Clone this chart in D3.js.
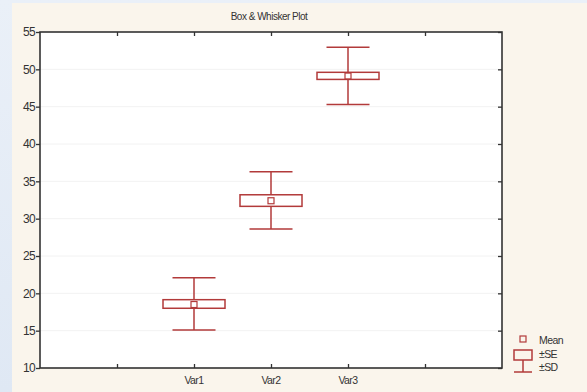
<!DOCTYPE html>
<html>
<head>
<meta charset="utf-8">
<script src="https://cdn.jsdelivr.net/npm/d3@7.9.0/dist/d3.min.js"></script>
<style>
  html, body { margin: 0; padding: 0; background: #fff; }
  svg { display: block; font-family: "Liberation Sans", Arial, sans-serif; }
</style>
</head>
<body>
<svg id="chart" width="587" height="392"></svg>
<script>
// data
const variables = ['Var1', 'Var2', 'Var3'];
const means = [18.5, 32.4, 49.1];
const seLow = [18.0, 31.65, 48.65];
const seHigh = [19.15, 33.2, 49.6];
const sdLow = [15.1, 28.6, 45.3];
const sdHigh = [22.1, 36.3, 52.95];
const yTicks = [10, 15, 20, 25, 30, 35, 40, 45, 50, 55];
const xTickPos = [1, 2, 3, 4, 5];

const svg = d3.select('#chart');
const W = 587, H = 392;
const red = '#b23a3a';

// backgrounds
const grad = svg.append('defs').append('linearGradient')
  .attr('id', 'side').attr('x1', 0).attr('x2', 0).attr('y1', 0).attr('y2', 1);
grad.append('stop').attr('offset', '0%').attr('stop-color', '#eaf0f8');
grad.append('stop').attr('offset', '100%').attr('stop-color', '#dfe8f4');
svg.append('rect').attr('width', W).attr('height', H).attr('fill', 'url(#side)');
svg.append('rect').attr('x', 12).attr('y', 3).attr('width', W - 12).attr('height', H - 3)
  .attr('fill', '#faf5ec');

const margin = { left: 40, right: 85, top: 32, bottom: 24 };
const x = d3.scaleLinear().domain([0, 6]).range([margin.left, W - margin.right]);
const y = d3.scaleLinear().domain([10, 55]).range([H - margin.bottom, margin.top]);

// plot area
svg.append('rect')
  .attr('x', x(0)).attr('y', y(55))
  .attr('width', x(6) - x(0)).attr('height', y(10) - y(55))
  .attr('fill', '#fff');

// faint grid
svg.append('g').selectAll('line').data(yTicks.slice(1, -1)).join('line')
  .attr('x1', x(0)).attr('x2', x(6))
  .attr('y1', d => y(d)).attr('y2', d => y(d))
  .attr('stroke', '#f2f2f2').attr('stroke-width', 1);

// axes
const axLeft = svg.append('g').attr('transform', `translate(${x(0)},0)`)
  .call(d3.axisLeft(y).tickValues(yTicks).tickSize(4).tickPadding(1));
const axRight = svg.append('g').attr('transform', `translate(${x(6)},0)`)
  .call(d3.axisLeft(y).tickValues(yTicks).tickSize(4).tickFormat(''));
const axBottom = svg.append('g').attr('transform', `translate(0,${y(10)})`)
  .call(d3.axisTop(x).tickValues(xTickPos).tickSize(4).tickFormat(''));
const axTop = svg.append('g').attr('transform', `translate(0,${y(55)})`)
  .call(d3.axisBottom(x).tickValues(xTickPos).tickSize(4).tickFormat(''));

[axLeft, axRight, axBottom, axTop].forEach(g => {
  g.select('.domain').remove();
  g.selectAll('.tick line').attr('stroke', '#333').attr('stroke-width', 1.3);
});
axLeft.selectAll('.tick text')
  .attr('font-size', 12).attr('fill', '#333').attr('letter-spacing', '-0.7');

// frame
svg.append('rect')
  .attr('x', x(0)).attr('y', y(55))
  .attr('width', x(6) - x(0)).attr('height', y(10) - y(55))
  .attr('fill', 'none').attr('stroke', '#333').attr('stroke-width', 1.6);

// x labels
svg.append('g').selectAll('text').data(variables).join('text')
  .attr('x', (d, i) => x(i + 2)).attr('y', y(10) + 16)
  .attr('text-anchor', 'middle').attr('font-size', 10.5).attr('fill', '#333')
  .attr('letter-spacing', '-0.6')
  .text(d => d);

// title
svg.append('text').attr('x', 269).attr('y', 20)
  .attr('text-anchor', 'middle').attr('font-size', 10).attr('fill', '#333')
  .attr('letter-spacing', '-0.5')
  .text('Box & Whisker Plot');

// boxes
const boxW = 62, capW = 43, meanS = 6;
const g = svg.append('g').attr('stroke', red).attr('fill', 'none').attr('stroke-width', 1.5);
variables.forEach((v, i) => {
  const cx = x(i + 2);
  g.append('line').attr('x1', cx).attr('x2', cx).attr('y1', y(sdHigh[i])).attr('y2', y(seHigh[i]));
  g.append('line').attr('x1', cx).attr('x2', cx).attr('y1', y(seLow[i])).attr('y2', y(sdLow[i]));
  g.append('line').attr('x1', cx - capW / 2).attr('x2', cx + capW / 2)
    .attr('y1', y(sdHigh[i])).attr('y2', y(sdHigh[i]));
  g.append('line').attr('x1', cx - capW / 2).attr('x2', cx + capW / 2)
    .attr('y1', y(sdLow[i])).attr('y2', y(sdLow[i]));
  g.append('rect').attr('x', cx - boxW / 2).attr('y', y(seHigh[i]))
    .attr('width', boxW).attr('height', y(seLow[i]) - y(seHigh[i]));
  g.append('rect').attr('x', cx - meanS / 2).attr('y', y(means[i]) - meanS / 2)
    .attr('width', meanS).attr('height', meanS).attr('stroke-width', 1.2);
});

// legend
const lg = svg.append('g');
const lx = 523;
lg.append('rect').attr('x', lx - 3).attr('y', 336).attr('width', 6).attr('height', 6)
  .attr('fill', 'none').attr('stroke', red).attr('stroke-width', 1.2);
lg.append('rect').attr('x', lx - 9).attr('y', 350).attr('width', 18).attr('height', 10)
  .attr('fill', 'none').attr('stroke', red).attr('stroke-width', 1.5);
lg.append('line').attr('x1', lx).attr('x2', lx).attr('y1', 360).attr('y2', 372)
  .attr('stroke', red).attr('stroke-width', 1.5);
lg.append('line').attr('x1', lx - 9).attr('x2', lx + 9).attr('y1', 372).attr('y2', 372)
  .attr('stroke', red).attr('stroke-width', 1.5);
const legendLabels = ['Mean', '\u00b1SE', '\u00b1SD'];
lg.selectAll('text').data(legendLabels).join('text')
  .attr('x', 539).attr('y', (d, i) => 344 + i * 13.5)
  .attr('font-size', 10.5).attr('fill', '#333').attr('letter-spacing', '-0.6')
  .text(d => d);
</script>
</body>
</html>
